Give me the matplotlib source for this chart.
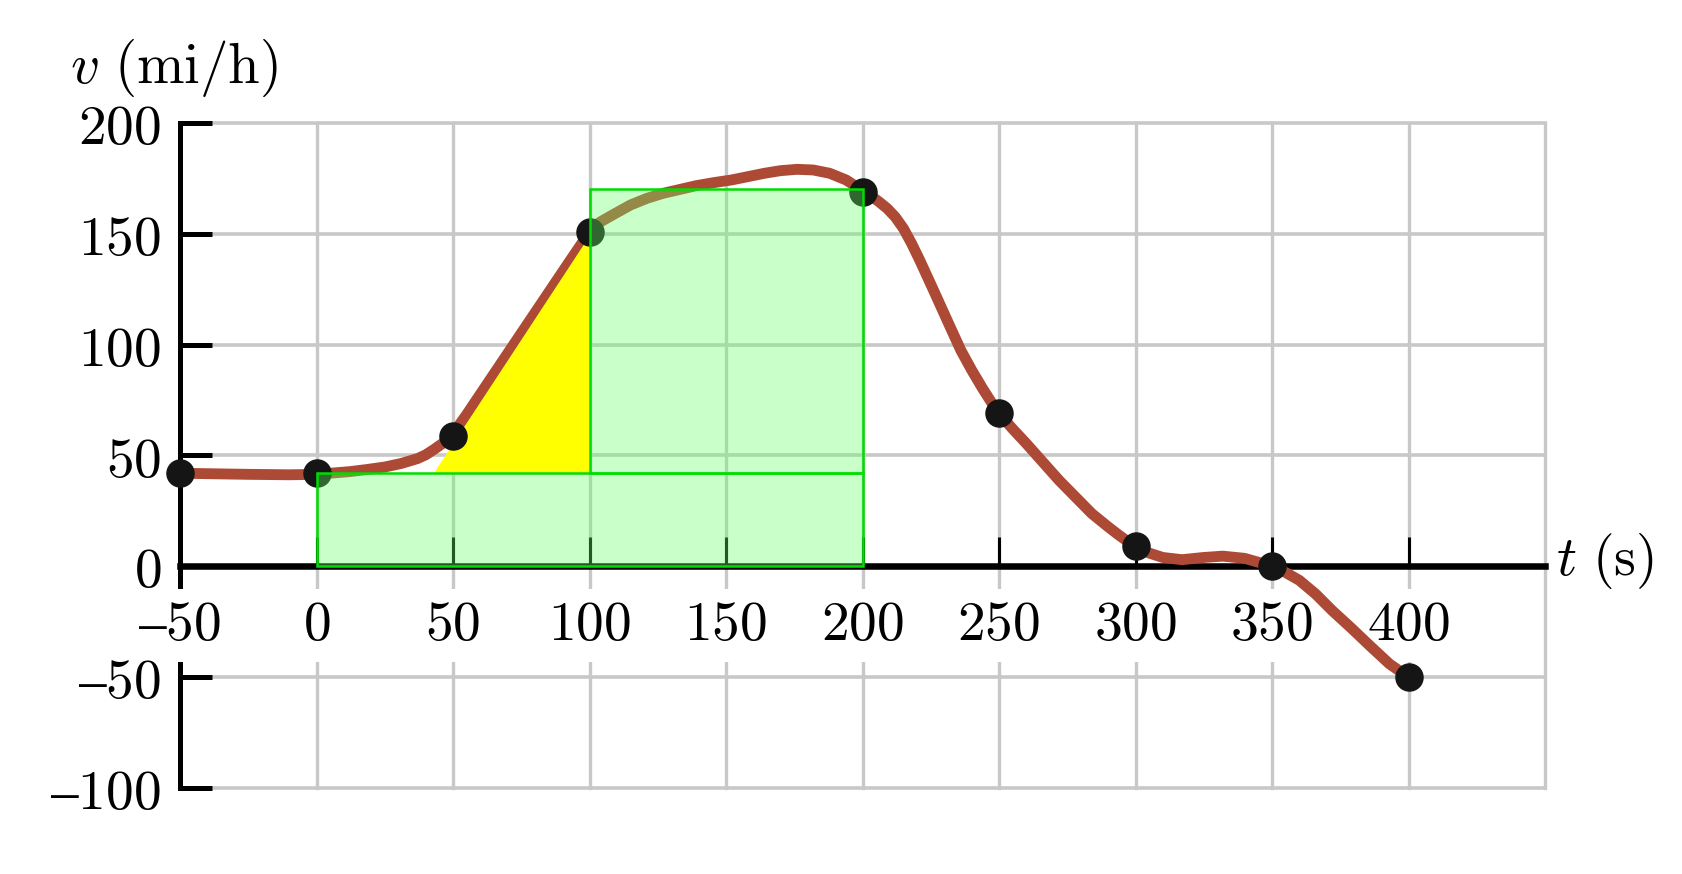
import matplotlib
matplotlib.use('Agg')
import matplotlib.pyplot as plt
from matplotlib.patches import Rectangle, Polygon

plt.rcParams['mathtext.fontset'] = 'cm'

# curve (t in s, v in mi/h)
curve_t = [-50, -40, -25, -10, 0, 6, 12, 18, 25, 31, 37, 40, 43, 46, 49, 52, 55,
           67, 79, 92, 98, 100, 102, 104, 109, 115, 121, 127, 133, 139, 145,
           152, 158, 164, 170, 176, 182, 188, 194, 200, 203, 206, 209, 212, 215, 218, 221,
           226, 231, 236, 240, 244, 247, 250, 255, 260, 272, 284, 290, 294, 300,
           305, 310, 317, 325, 332, 340, 346, 350, 355, 360, 366, 372, 379, 386, 393, 400]
curve_v = [42, 41.8, 41.5, 41.3, 41.5, 42.1, 42.7, 43.6, 44.8, 46.4, 48.6, 50.3, 52.7, 55.3, 58.5, 63.3, 68.5,
           90.5, 112.5, 136.3, 147.2, 151, 153.5, 155.4, 158.9, 163, 166, 168.3, 170, 171.7, 173,
           174.3, 175.8, 177.3, 178.5, 179.1, 178.8, 177.3, 174.3, 169.5, 167.2, 164.5, 161.5, 157.6, 152.4, 145.6, 138,
           124.6, 111, 97.5, 88.5, 80.2, 74.4, 69, 62, 55.4, 38.8, 23.8, 17.8, 14, 8.7,
           6, 4, 3, 4, 4.6, 3.6, 1.5, 0, -2.8, -6.3, -12.5, -19.9, -27.8, -36, -44, -50]

# measured points
dots_t = [-50, 0, 50, 100, 200, 250, 300, 350, 400]
dots_v = [42, 42, 59, 151, 169, 69, 9, 0, -50]

# shaded areas
rect_t0 = [0, 100]
rect_t1 = [200, 200]
rect_v0 = [0, 42]
rect_v1 = [42, 170]
tri_t = [43, 100, 100]
tri_v = [42, 149, 42]

xticks = [-50, 0, 50, 100, 150, 200, 250, 300, 350, 400]
xtick_labels = ['–50', '0', '50', '100', '150', '200', '250', '300', '350', '400']
yticks = [-100, -50, 0, 50, 100, 150, 200]
ytick_labels = ['–100', '–50', '0', '50', '100', '150', '200']
grid_x = [-50, 0, 50, 100, 150, 200, 250, 300, 350, 400, 450]
grid_y = [-100, -50, 0, 50, 100, 150, 200]

fig = plt.figure(figsize=(16.82, 8.74), dpi=100)
ax = fig.add_axes([180 / 1682, 1 - 788 / 874, 1365 / 1682, 665 / 874])
ax.set_xlim(-50, 450)
ax.set_ylim(-100, 200)

grid_color = '#c8c8c8'
for x in grid_x:
    ax.axvline(x, color=grid_color, lw=2.4, zorder=0.5, clip_on=False)
for y in grid_y:
    ax.axhline(y, color=grid_color, lw=2.6, zorder=0.5, clip_on=False)

ax.plot(curve_t, curve_v, color='#ad4a35', lw=7.8, solid_joinstyle='round',
        solid_capstyle='round', zorder=3, clip_on=False)
ax.add_patch(Polygon(list(zip(tri_t, tri_v)), closed=True, facecolor='#ffff00',
                     edgecolor='none', zorder=3.5))
ax.plot(dots_t, dots_v, 'o', ms=19.5, color='#151515', zorder=4, clip_on=False)

for t0, t1, v0, v1 in zip(rect_t0, rect_t1, rect_v0, rect_v1):
    ax.add_patch(Rectangle((t0, v0), t1 - t0, v1 - v0, facecolor=(0.4, 1, 0.4, 0.35),
                           edgecolor='#00dd00', lw=1.8, zorder=5))

for s in ['top', 'right']:
    ax.spines[s].set_visible(False)
ax.spines['bottom'].set_position(('data', 0))
ax.spines['bottom'].set_linewidth(4.7)
ax.spines['left'].set_linewidth(3.6)
ax.spines['left'].set_zorder(1)
ax.patch.set_visible(False)

ax.set_xticks(xticks, [f'${s}$' for s in xtick_labels], fontsize=40)
ax.set_yticks(yticks, [f'${s}$' for s in ytick_labels], fontsize=40)
ax.tick_params(axis='x', direction='in', length=21, width=2.2, pad=23)
ax.tick_params(axis='y', direction='in', length=23, width=3.6, pad=13.5)
for lab in ax.get_xticklabels():
    lab.set_bbox(dict(facecolor='white', edgecolor='none', pad=7))

fig.text(70 / 1682, 1 - 83 / 874, r'$v\ (\mathrm{mi/h})$', fontsize=41, ha='left', va='baseline')
fig.text(1556 / 1682, 1 - 575 / 874, r'$t\ (\mathrm{s})$', fontsize=40, ha='left', va='baseline')

fig.savefig('out.png', dpi=100)
